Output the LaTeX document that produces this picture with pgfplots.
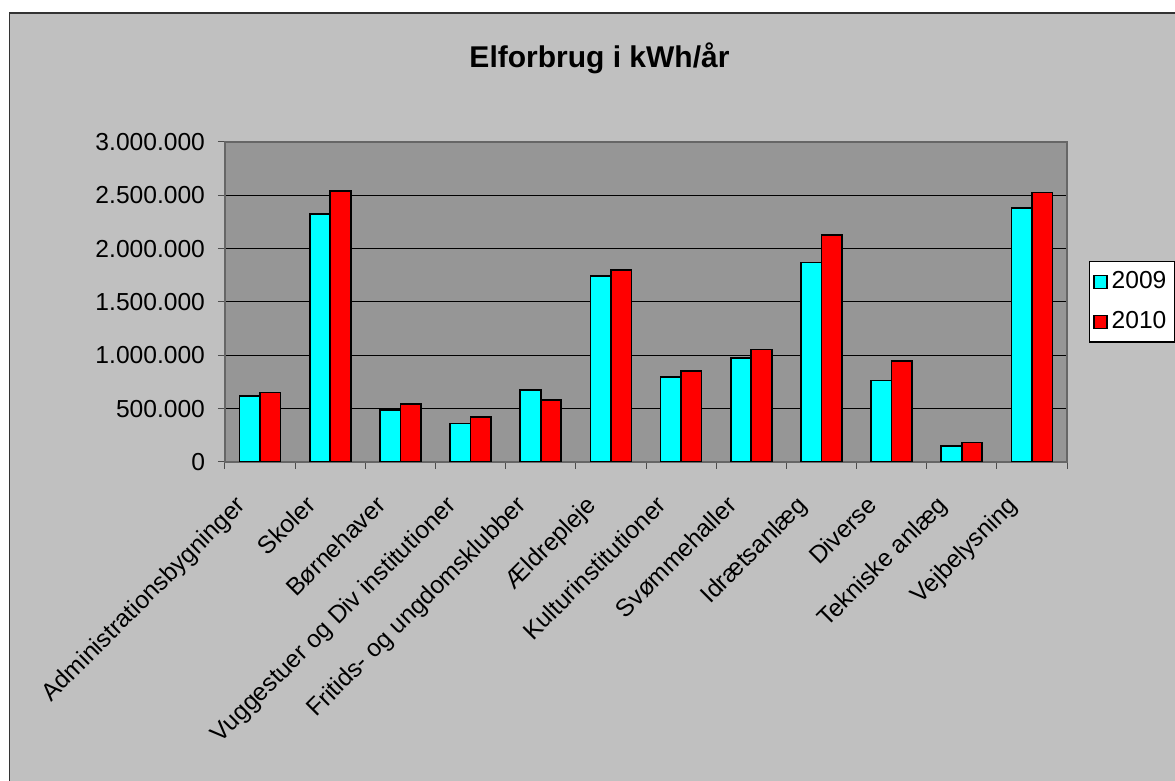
\documentclass[border=0pt]{standalone}
\usepackage{pgfplots}
\pgfplotsset{compat=1.18}
\usepackage{fontspec}
\setmainfont{Liberation Sans}
\definecolor{outerbg}{HTML}{C0C0C0}
\definecolor{plotbg}{HTML}{969696}
\definecolor{c2009}{HTML}{00FFFF}
\definecolor{c2010}{HTML}{FF0000}
\pgfplotsset{sqlegend/.style={legend image code/.code={
  \draw[##1, line width=0.6pt] (0pt,-3.25pt) rectangle (6.5pt,3.25pt);}}}
\begin{document}
\begin{tikzpicture}
\clip (0,0) rectangle (587.5pt,390.5pt);
\fill[white] (0,0) rectangle (587.5pt,390.5pt);
\draw[fill=outerbg, line width=0.6pt, draw=black!80] (4.75pt,-5pt) rectangle (600pt,384pt);
\node[anchor=base, font=\bfseries\fontsize{15}{18}\selectfont] at (299.75pt,356.85pt) {Elforbrug i kWh/år};
\begin{axis}[
  at={(112.5pt,159.5pt)}, anchor=south west,
  scale only axis, width=421pt, height=160pt,
  axis background/.style={fill=plotbg},
  ybar=0pt, bar width=10.25pt,
  xmin=-0.5, xmax=11.5, ymin=0, ymax=3000000,
  xtick={0,...,11},
  xticklabels={Administrationsbygninger, Skoler, Børnehaver, Vuggestuer og Div institutioner, Fritids- og ungdomsklubber, Ældrepleje, Kulturinstitutioner, Svømmehaller, Idrætsanlæg, Diverse, Tekniske anlæg, Vejbelysning},
  minor xtick={-0.5,0.5,...,11.5},
  major x tick style={draw=none},
  xtick pos=lower, ytick pos=left,
  ytick={0,500000,...,3000000},
  scaled y ticks=false,
  yticklabel={\pgfmathprintnumber[fixed,precision=0,1000 sep={.}]{\tick}},
  /pgf/number format/assume math mode=true,
  tick align=outside, major tick length=3.5pt, minor tick length=3.5pt,
  tick style={black!70, line width=0.5pt},
  ymajorgrids, grid style={black, line width=0.5pt},
  axis line style={draw=black!60, line width=0.6pt},
  ticklabel style={font=\fontsize{12.3}{14}\selectfont},
  yticklabel style={xshift=-3pt},
  xticklabel style={xshift=-13pt, yshift=-11pt, rotate=45, anchor=north east, inner sep=1pt},
  legend style={at={(1.026,0.628)}, anchor=north west, fill=white, draw=black,
    line width=0.6pt, font=\fontsize{12.3}{14}\selectfont, row sep=6pt,
    inner xsep=2pt, inner ysep=3pt},
  legend cell align=left,
]
\addplot[fill=c2009, draw=black, line width=0.9pt, sqlegend] coordinates {
  (0,616000) (1,2324000) (2,488000) (3,360000) (4,673000) (5,1745000)
  (6,797000) (7,976000) (8,1870000) (9,764000) (10,147000) (11,2383000)
};
\addplot[fill=c2010, draw=black, line width=0.9pt, sqlegend] coordinates {
  (0,651000) (1,2542000) (2,541000) (3,419000) (4,582000) (5,1798000)
  (6,854000) (7,1054000) (8,2127000) (9,948000) (10,182000) (11,2527000)
};
\legend{2009,2010}
\end{axis}
\end{tikzpicture}
\end{document}
